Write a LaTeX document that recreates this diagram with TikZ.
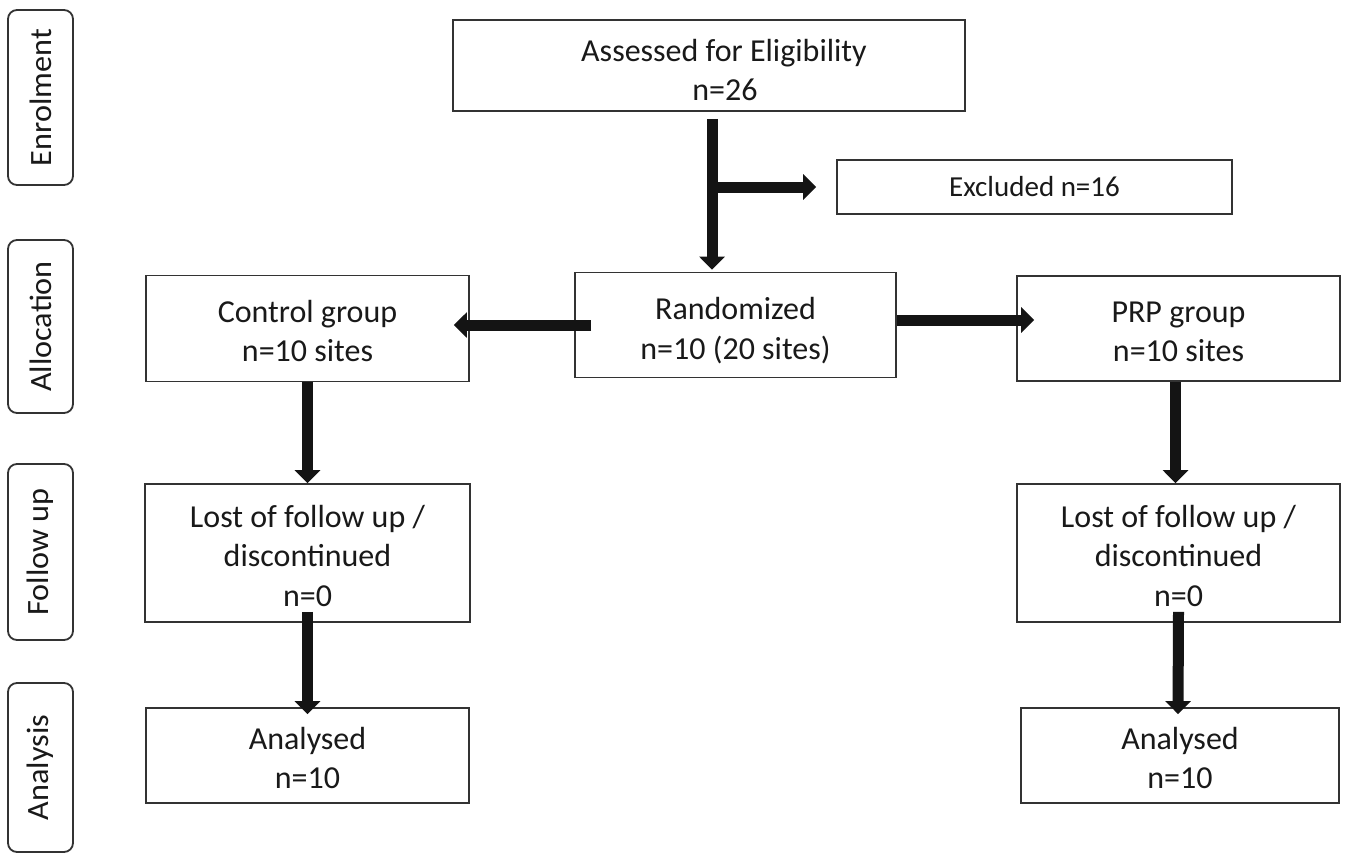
\documentclass[tikz,border=0pt]{standalone}
\usepackage{fontspec}
\setmainfont{Carlito}
\usetikzlibrary{arrows.meta}
\begin{document}
\begin{tikzpicture}[x=1pt,y=-1pt,
  box/.style={draw=black!80,line width=1.8pt,fill=white,align=center,inner sep=0pt,
    font=\fontsize{32}{39}\selectfont,text=black!90},
  side/.style={draw=black!80,line width=1.8pt,rounded corners=9pt,rotate=90,inner sep=0pt,
    font=\fontsize{31}{36}\selectfont,text=black!90},
  arr/.style={line width=11pt,draw=black!92,-{Triangle[width=25pt,length=13pt]}}]
\fill[white] (0,0) rectangle (1349,854);
\useasboundingbox (0,0) rectangle (1349,854);

% phase labels
\node[side,minimum width=175pt,minimum height=65pt] (enr) at (40.5,97.5) {\scalebox{1.04}[1]{Enrolment}};
\node[side,minimum width=173pt,minimum height=65pt] (alloc) at (40.5,326.5) {\scalebox{1.04}[1]{Allocation}};
\node[side,minimum width=176pt,minimum height=65pt] (fol) at (40.5,552) {\scalebox{1.04}[1]{Follow up}};
\node[side,minimum width=169pt,minimum height=65pt] (ana) at (40.5,767.5) {\scalebox{1.04}[1]{Analysis}};

% boxes
\node[box,minimum width=512pt,minimum height=91pt] (assess) at (709,65.5) {\hspace*{30pt}\rule{0pt}{31pt}Assessed for Eligibility\\\hspace*{32pt}n=26};
\node[box,minimum width=395pt,minimum height=54pt,font=\fontsize{29}{34}\selectfont] (excl) at (1034.5,187) {Excluded n=16};
\node[box,minimum width=321pt,minimum height=105pt] (rand) at (735.5,325) {\rule{0pt}{34pt}Randomized\\[1pt]n=10 (20 sites)};
\node[box,minimum width=323pt,minimum height=106pt] (ctrl) at (307.5,328.5) {\rule{0pt}{28pt}Control group\\n=10 sites};
\node[box,minimum width=323pt,minimum height=105pt] (prp) at (1178.5,328.5) {\rule{0pt}{28pt}PRP group\\n=10 sites};
\node[box,minimum width=325pt,minimum height=138pt] (lostL) at (307.5,553) {\rule{0pt}{28pt}Lost of follow up /\\[0.5pt]discontinued\\[0.5pt]n=0};
\node[box,minimum width=323pt,minimum height=138pt] (lostR) at (1178.5,553) {\rule{0pt}{28pt}Lost of follow up /\\[0.5pt]discontinued\\[0.5pt]n=0};
\node[box,minimum width=323pt,minimum height=95pt] (anaL) at (307.5,755.5) {\rule{0pt}{28pt}Analysed\\n=10};
\node[box,minimum width=318pt,minimum height=95pt] (anaR) at (1180,755.5) {\rule{0pt}{28pt}Analysed\\n=10};

% helper coordinates
\coordinate (c1) at (712,0);
\coordinate (c2) at (0,325);
\coordinate (c3) at (0,320);

% connectors
\draw[arr] ([yshift=-7pt]assess.south -| c1) -- ([yshift=2pt]rand.north -| c1);
\draw[arr] (c1 |- excl.west) -- ([xshift=-20pt]excl.west);
\draw[arr] ([xshift=17pt]rand.west |- c2) -- ([xshift=-16pt]ctrl.east |- c2);
\draw[arr] (rand.east |- c3) -- ([xshift=18pt]prp.west |- c3);
\draw[arr] (ctrl.south) -- (lostL.north);
\draw[arr] ([yshift=11pt]lostL.south) -- ([yshift=-7pt]anaL.north);
\draw[arr] ([xshift=-3pt]prp.south) -- ([xshift=-3pt]lostR.north);
\draw[arr] ([yshift=11pt]lostR.south) -- ([yshift=-7pt,xshift=-2pt]anaR.north);
\end{tikzpicture}
\end{document}
